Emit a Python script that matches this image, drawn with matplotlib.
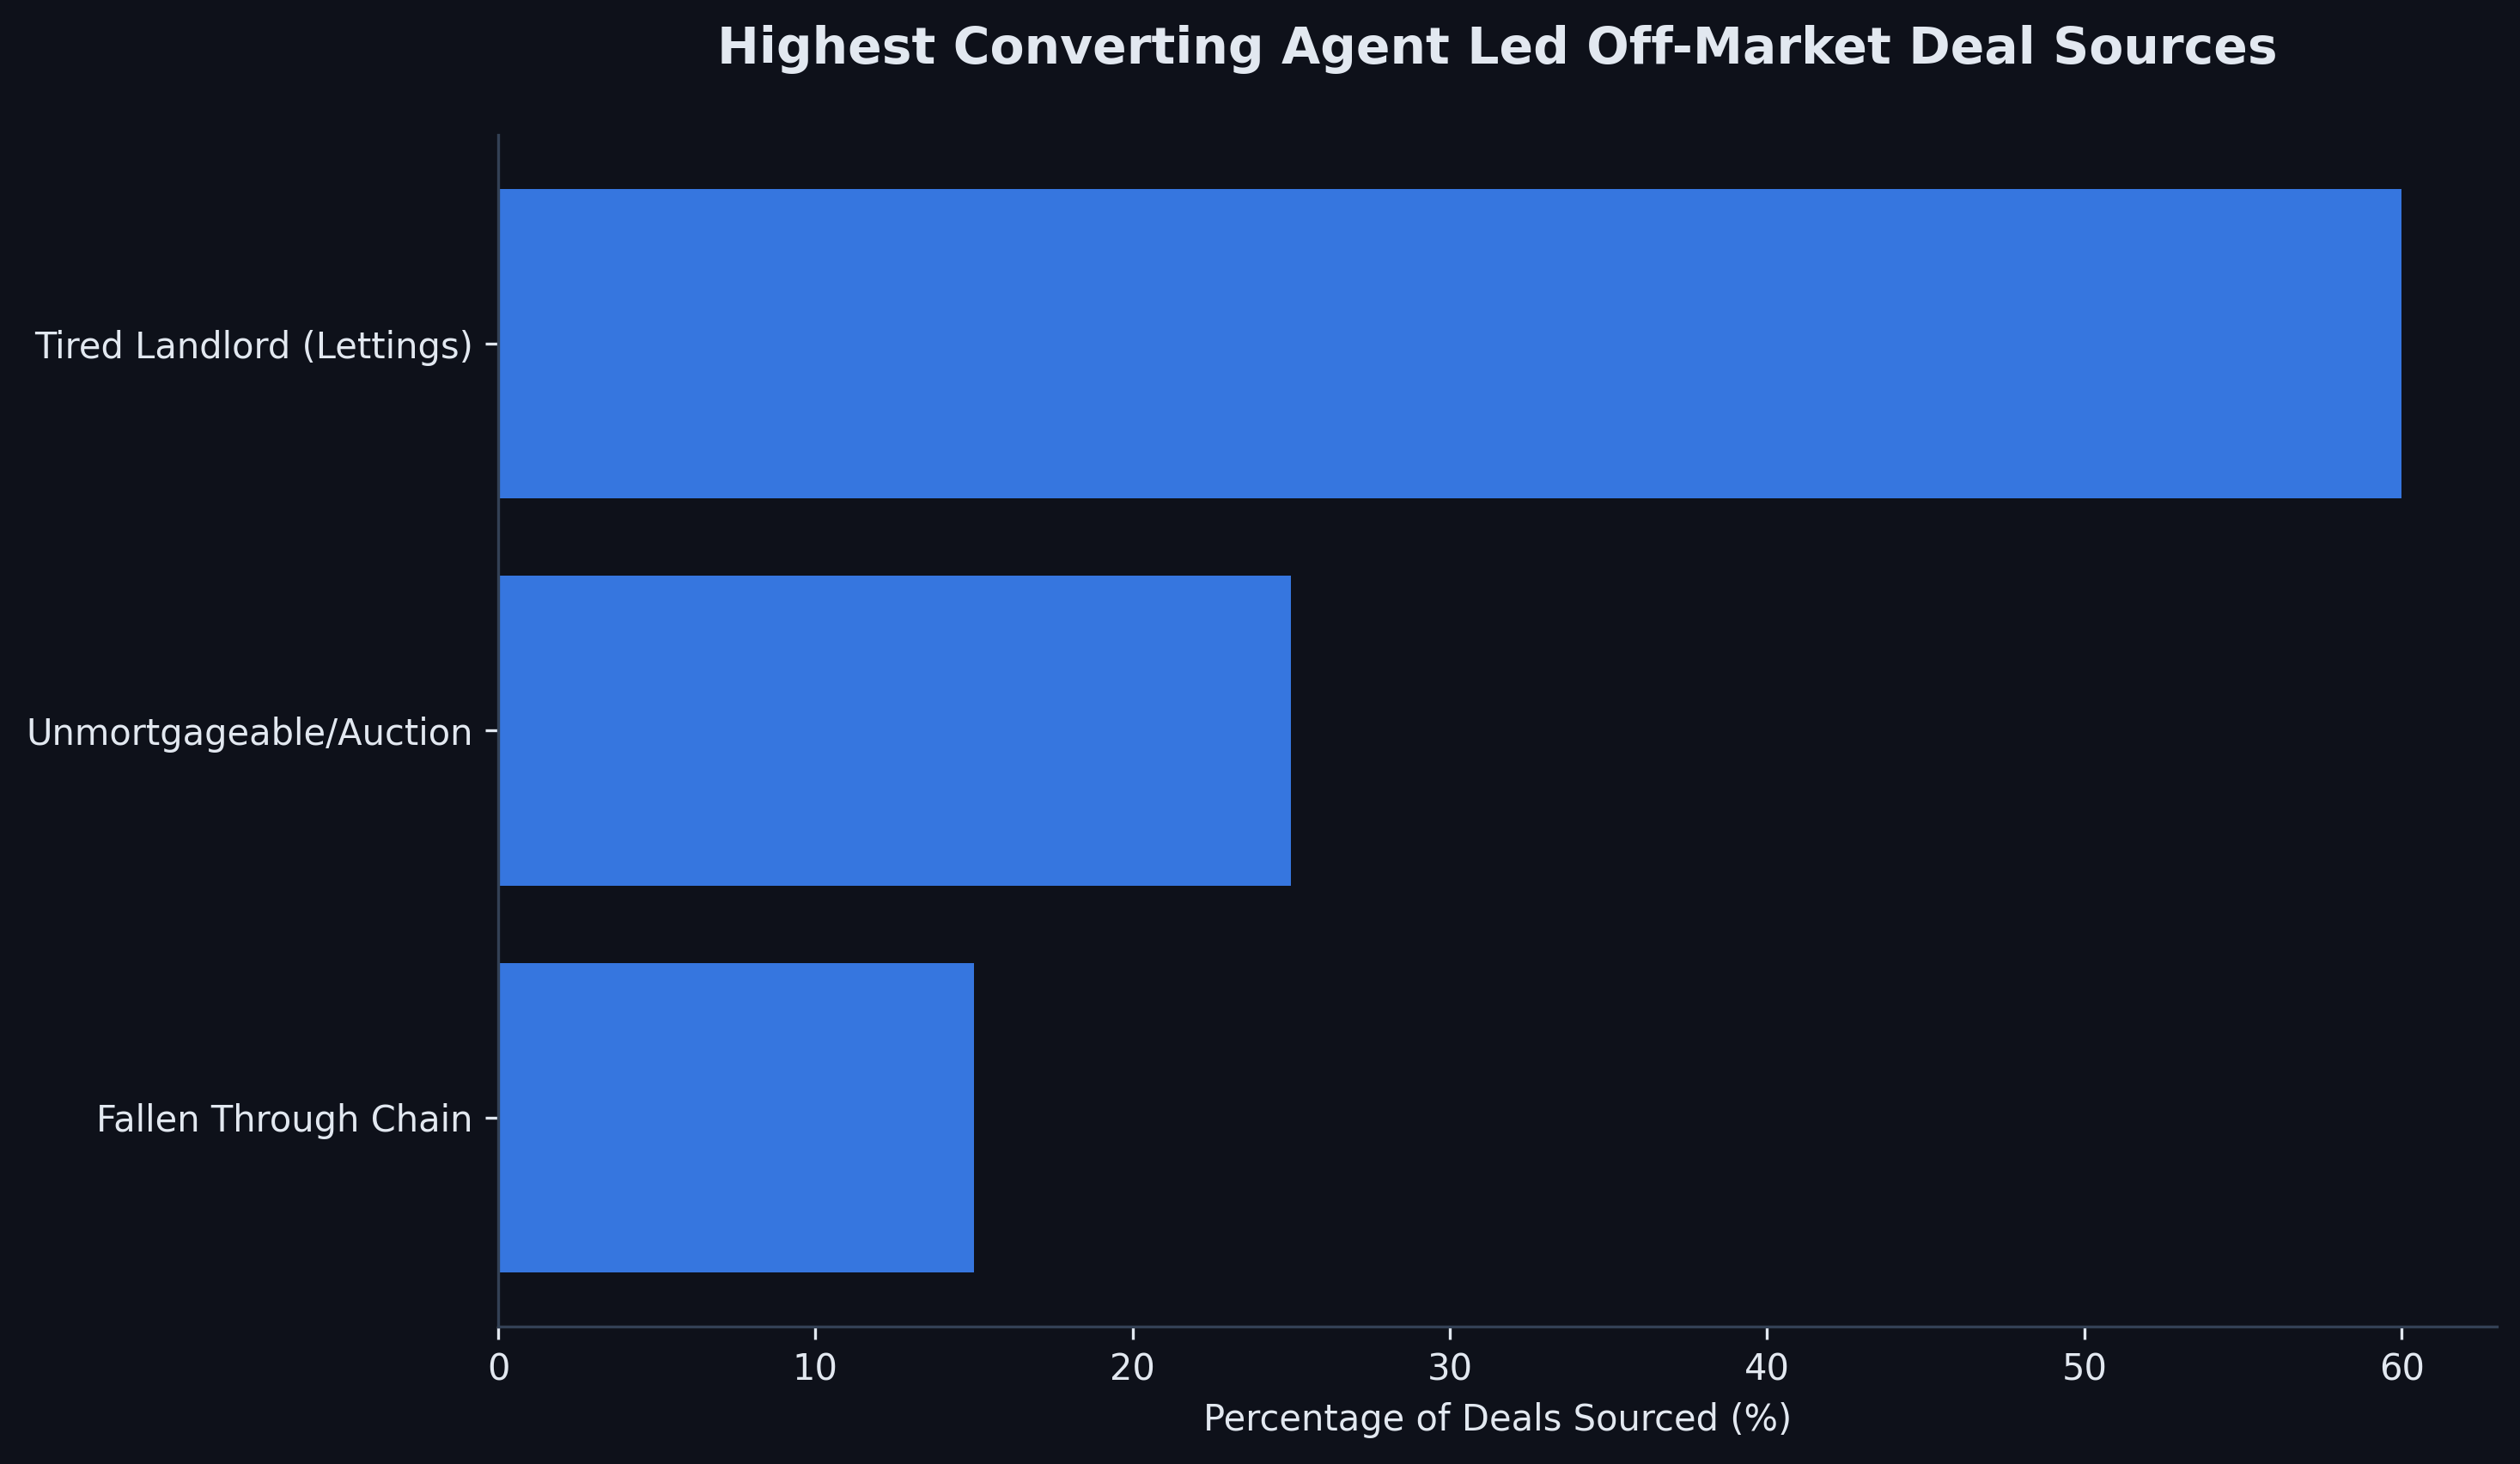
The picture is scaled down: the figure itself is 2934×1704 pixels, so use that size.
import matplotlib
matplotlib.use("Agg")
import matplotlib.pyplot as plt

# deal sources, top to bottom as shown
sources = ['Tired Landlord (Lettings)', 'Unmortgageable/Auction', 'Fallen Through Chain']
pct_deals = [60, 25, 15]

BG = '#0e111a'
TEXT = '#e2e8f0'
SPINE = '#334155'
BAR = '#3b82f6'

fig, ax = plt.subplots(figsize=(9.78, 5.68), dpi=300)
fig.patch.set_facecolor(BG)
ax.set_facecolor(BG)

ax.barh(sources, pct_deals, color=BAR, alpha=0.9, height=0.8)
ax.invert_yaxis()

ax.set_title('Highest Converting Agent Led Off-Market Deal Sources',
             fontsize=14, fontweight='bold', color=TEXT, pad=20)
ax.set_xlabel('Percentage of Deals Sourced (%)', fontsize=10, color=TEXT)

ax.tick_params(colors=TEXT, labelsize=10)
for side in ['top', 'right']:
    ax.spines[side].set_visible(False)
for side in ['left', 'bottom']:
    ax.spines[side].set_color(SPINE)

plt.subplots_adjust(left=0.1977, right=0.9908, top=0.9079, bottom=0.0939)
plt.savefig('out.png', facecolor=BG)
